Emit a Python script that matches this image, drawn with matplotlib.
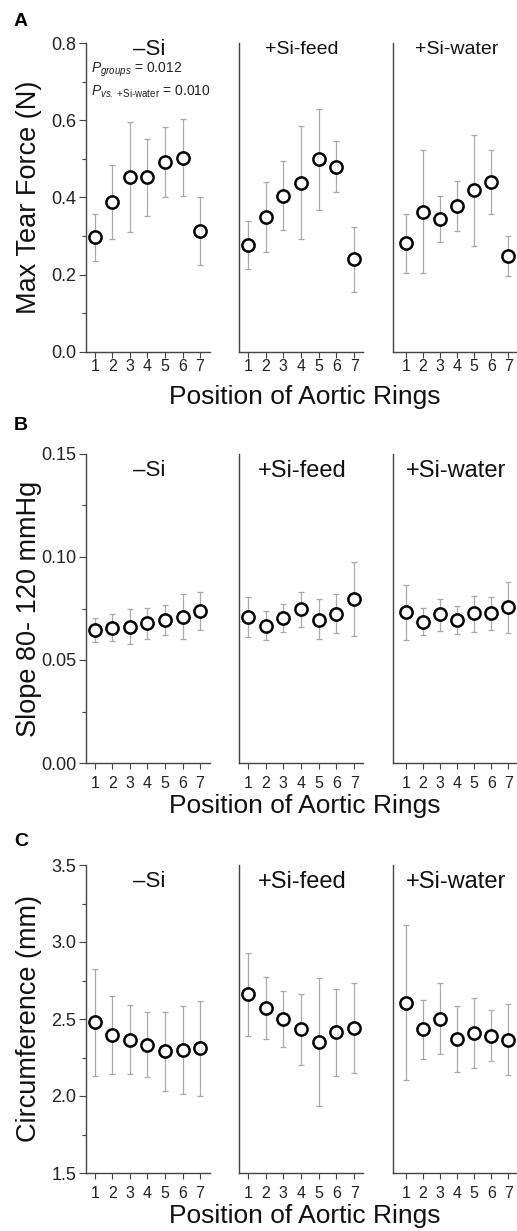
import numpy as np
import matplotlib
matplotlib.use("Agg")
import matplotlib.pyplot as plt
from matplotlib.ticker import MultipleLocator

plt.rcParams['font.family'] = ['Liberation Sans', 'DejaVu Sans']
plt.rcParams['mathtext.fontset'] = 'custom'
plt.rcParams['mathtext.rm'] = 'Liberation Sans'
plt.rcParams['mathtext.it'] = 'Liberation Sans:italic'

positions = [1, 2, 3, 4, 5, 6, 7]
groups = ["\u2013Si", "+Si-feed", "+Si-water"]

# A: max tear force (N)
tear_mean = [[0.298, 0.388, 0.453, 0.452, 0.493, 0.503, 0.314],
             [0.277, 0.349, 0.404, 0.438, 0.499, 0.480, 0.240],
             [0.282, 0.363, 0.344, 0.377, 0.419, 0.439, 0.248]]
tear_lo = [[0.236, 0.292, 0.311, 0.353, 0.402, 0.404, 0.225],
           [0.216, 0.258, 0.316, 0.292, 0.368, 0.414, 0.156],
           [0.205, 0.205, 0.284, 0.312, 0.274, 0.356, 0.197]]
tear_hi = [[0.357, 0.485, 0.596, 0.551, 0.583, 0.603, 0.402],
           [0.339, 0.440, 0.494, 0.584, 0.630, 0.546, 0.323],
           [0.358, 0.522, 0.403, 0.443, 0.562, 0.523, 0.300]]

# B: slope 80-120 mmHg
slope_mean = [[0.0646, 0.0654, 0.0662, 0.0678, 0.0694, 0.0707, 0.0740],
              [0.0711, 0.0665, 0.0703, 0.0746, 0.0696, 0.0724, 0.0798],
              [0.0732, 0.0686, 0.0722, 0.0693, 0.0727, 0.0727, 0.0759]]
slope_lo = [[0.0589, 0.0591, 0.0579, 0.0600, 0.0621, 0.0600, 0.0646],
            [0.0610, 0.0597, 0.0638, 0.0659, 0.0602, 0.0631, 0.0618],
            [0.0597, 0.0620, 0.0642, 0.0628, 0.0638, 0.0646, 0.0633]]
slope_hi = [[0.0704, 0.0724, 0.0749, 0.0754, 0.0769, 0.0818, 0.0831],
            [0.0808, 0.0737, 0.0771, 0.0831, 0.0795, 0.0819, 0.0978],
            [0.0866, 0.0754, 0.0798, 0.0763, 0.0813, 0.0808, 0.0881]]

# C: circumference (mm)
circ_mean = [[2.478, 2.395, 2.365, 2.332, 2.289, 2.300, 2.311],
             [2.663, 2.574, 2.501, 2.436, 2.349, 2.418, 2.444],
             [2.607, 2.434, 2.503, 2.369, 2.408, 2.390, 2.365]]
circ_lo = [[2.127, 2.144, 2.142, 2.123, 2.034, 2.014, 2.003],
           [2.390, 2.371, 2.317, 2.204, 1.936, 2.133, 2.152],
           [2.101, 2.243, 2.272, 2.157, 2.185, 2.228, 2.136]]
circ_hi = [[2.823, 2.650, 2.592, 2.548, 2.548, 2.587, 2.619],
           [2.931, 2.775, 2.680, 2.663, 2.765, 2.697, 2.736],
           [3.110, 2.624, 2.736, 2.587, 2.635, 2.557, 2.596]]

W, H = 517, 1231
fig = plt.figure(figsize=(W / 100, H / 100), dpi=100)

spine_c = '#444444'
err_c = '#aaaaaa'

panels = [
    dict(letter='A', top=43, bot=352, mean=tear_mean, lo=tear_lo, hi=tear_hi,
         ylim=(0, 0.8), major=0.2, minor=0.1, fmt='%.1f', ylabel='Max Tear Force (N)',
         letter_y=21, xlab_y=397, xpad=1, title_y=0.978, title_fs=[16, 14, 14]),
    dict(letter='B', top=454, bot=763, mean=slope_mean, lo=slope_lo, hi=slope_hi,
         ylim=(0, 0.15), major=0.05, minor=0.025, fmt='%.2f', ylabel='Slope 80- 120 mmHg',
         letter_y=426, xlab_y=806, xpad=5, title_y=0.945, title_fs=[16, 17, 17]),
    dict(letter='C', top=865, bot=1173, mean=circ_mean, lo=circ_lo, hi=circ_hi,
         ylim=(1.5, 3.5), major=0.5, minor=0.25, fmt='%.1f', ylabel='Circumference (mm)',
         letter_y=842, xlab_y=1216, xpad=5, title_y=0.945, title_fs=[16, 17, 17]),
]
cols = [(86, 210, (0.49, 7.57)), (239, 363, (0.5, 7.5)), (393, 517, (0.25, 7.5))]

for p in panels:
    for gi, (x0, x1, xl) in enumerate(cols):
        ax = fig.add_axes([x0 / W, 1 - p['bot'] / H, (x1 - x0) / W, (p['bot'] - p['top']) / H])
        m = np.array(p['mean'][gi])
        lo = np.array(p['lo'][gi])
        hi = np.array(p['hi'][gi])
        ax.errorbar(positions, m, yerr=[m - lo, hi - m], fmt='none', ecolor=err_c,
                    elinewidth=0.9, capsize=2, capthick=0.9, zorder=2)
        ax.plot(positions, m, 'o', ms=8.8, mfc='white', mec='black', mew=1.8,
                linestyle='none', zorder=3)
        ax.set_xlim(*xl)
        ax.set_ylim(*p['ylim'])
        for s in ['top', 'right']:
            ax.spines[s].set_visible(False)
        for s in ['left', 'bottom']:
            ax.spines[s].set_color(spine_c)
            ax.spines[s].set_linewidth(1.0)
        ax.set_xticks(positions)
        ax.tick_params(axis='x', direction='out', length=4, width=0.8, color=spine_c,
                       labelsize=11.5, pad=p['xpad'], labelcolor='#222222')
        if gi == 0:
            ax.yaxis.set_major_locator(MultipleLocator(p['major']))
            ax.yaxis.set_minor_locator(MultipleLocator(p['minor']))
            ax.yaxis.set_major_formatter(matplotlib.ticker.FormatStrFormatter(p['fmt']))
            ax.tick_params(axis='y', which='major', direction='out', length=5, width=0.8,
                           color=spine_c, labelsize=13, pad=2, labelcolor='#222222')
            ax.tick_params(axis='y', which='minor', direction='out', length=3, width=0.8,
                           color=spine_c)
        else:
            ax.set_yticks([])
        ax.text(0.51, p['title_y'], groups[gi], transform=ax.transAxes, ha='center',
                va='center', fontsize=p['title_fs'][gi], color='#111111')
        if p['letter'] == 'A' and gi == 0:
            ax.text(0.04, 0.913, r'$P_{groups}$ = 0.012', transform=ax.transAxes,
                    ha='left', va='center', fontsize=10, color='#222222')
            ax.text(0.04, 0.841, r'$P_{vs.\ \mathrm{+Si}\text{-}\mathrm{water}}$ = 0.010',
                    transform=ax.transAxes, ha='left', va='center', fontsize=10,
                    color='#222222')
    fig.text(29 / W, 1 - (p['top'] + p['bot']) / 2 / H, p['ylabel'], rotation=90,
             ha='center', va='center', fontsize=19.5, color='#111111')
    fig.text(305 / W, 1 - p['xlab_y'] / H, 'Position of Aortic Rings', ha='center',
             va='center', fontsize=19, color='#111111')
    fig.text(21 / W, 1 - p['letter_y'] / H, p['letter'], ha='center', va='center',
             fontsize=14, fontweight='bold')

fig.savefig('out.png', dpi=100, facecolor='w')
